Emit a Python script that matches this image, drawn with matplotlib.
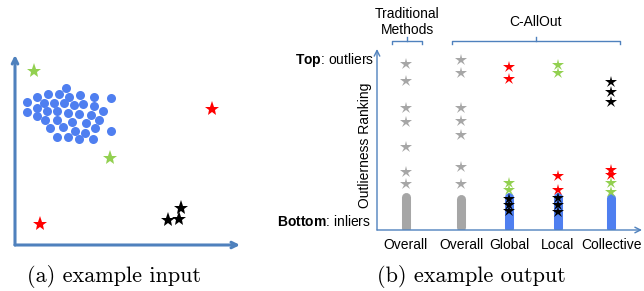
import matplotlib
matplotlib.use("Agg")
import matplotlib.pyplot as plt

plt.rcParams['font.family'] = ['Liberation Sans', 'DejaVu Sans']
plt.rcParams['mathtext.fontset'] = 'custom'
plt.rcParams['mathtext.rm'] = 'Liberation Sans'
plt.rcParams['mathtext.bf'] = 'Liberation Sans:bold'

# (a) input space: inlier cluster + outliers
inlier_x = [51, 22, 33, 44, 54, 65, 79, 96, 12, 29, 39, 49, 59, 68, 79, 88,
            12, 22, 32, 42, 53, 64, 76, 84, 22, 30, 42, 57, 71, 80, 96,
            35, 48, 60, 70, 42, 53, 64, 78]
inlier_y = [157, 148, 151, 151, 148, 150, 148, 147, 143, 142, 142, 142, 140, 141, 139, 134,
            133, 137, 134, 134, 132, 131, 130, 125, 129, 125, 125, 123, 122, 117, 114,
            117, 118, 114, 112, 108, 108, 106, 106]
local_x, local_y = [19, 95], [174, 87]
global_x, global_y = [197, 25], [136, 21]
coll_x, coll_y = [166, 153, 164], [37, 25, 26]

# (b) outlierness ranking per column
col_labels = ['Overall', 'Overall', 'Global', 'Local', 'Collective']
col_x = [29, 84, 132, 181, 234]
gray_stars = {0: [166, 149, 122, 108, 83, 58, 46],
              1: [170, 157, 122, 109, 95, 63, 46]}
gray_bar = {0: (2, 33), 1: (3, 31)}
blue_bar = {2: (2, 33), 3: (2, 33), 4: (2, 32)}
red_stars = {2: [163, 151], 3: [54, 40], 4: [60, 55]}
green_stars = {2: [47, 40], 3: [165, 157], 4: [47, 38]}
black_stars = {2: [31, 25, 19], 3: [32, 25, 18], 4: [148, 138, 128]}

BLUE = '#4F7FF0'
AXC = '#4F81BD'
GRAY = '#A6A6A6'
GREEN = '#92D050'
RED = '#FF0000'

W, H = 644, 291
fig = plt.figure(figsize=(W / 100, H / 100), dpi=100)


def px_axes(x0, y0, x1, y1):
    # axes placed by pixel box (top-left origin)
    return fig.add_axes([x0 / W, 1 - y1 / H, (x1 - x0) / W, (y1 - y0) / H])


# ---- panel (a)
ax_a = px_axes(15, 55, 240, 245)
ax_a.set_xlim(0, 225)
ax_a.set_ylim(0, 190)
ax_a.axis('off')
ax_a.annotate('', xy=(0, 1), xytext=(0, 0), xycoords='axes fraction',
              arrowprops=dict(arrowstyle='->', color=AXC, lw=2.2, shrinkA=0, shrinkB=0))
ax_a.annotate('', xy=(1, 0), xytext=(0, 0), xycoords='axes fraction',
              arrowprops=dict(arrowstyle='->', color=AXC, lw=2.2, shrinkA=0, shrinkB=0))
ax_a.plot(inlier_x, inlier_y, 'o', color=BLUE, ms=6.5, mew=0, clip_on=False)
ax_a.plot(local_x, local_y, '*', color=GREEN, ms=11, mew=0, clip_on=False)
ax_a.plot(global_x, global_y, '*', color=RED, ms=11, mew=0, clip_on=False)
ax_a.plot(coll_x, coll_y, '*', color='black', ms=11, mew=0, clip_on=False)

# ---- panel (b)
ax_b = px_axes(377, 49, 642, 230)
ax_b.set_xlim(0, 265)
ax_b.set_ylim(0, 181)
ax_b.axis('off')
ax_b.annotate('', xy=(0, 1), xytext=(0, 0), xycoords='axes fraction',
              arrowprops=dict(arrowstyle='->', color=AXC, lw=1, shrinkA=0, shrinkB=0))
ax_b.annotate('', xy=(1, 0), xytext=(0, 0), xycoords='axes fraction',
              arrowprops=dict(arrowstyle='->', color=AXC, lw=1, shrinkA=0, shrinkB=0))

star_ms = 9
for i, x in enumerate(col_x):
    if i in gray_bar:
        ax_b.plot([x, x], gray_bar[i], color=GRAY, lw=6.5, solid_capstyle='round')
    if i in blue_bar:
        ax_b.plot([x, x], blue_bar[i], color=BLUE, lw=6.5, solid_capstyle='round')
    if i in gray_stars:
        ax_b.plot([x] * len(gray_stars[i]), gray_stars[i], '*', color=GRAY, ms=star_ms, mew=0)
    for d, c in ((black_stars, 'black'), (green_stars, GREEN), (red_stars, RED)):
        if i in d:
            ax_b.plot([x] * len(d[i]), d[i], '*', color=c, ms=star_ms, mew=0, clip_on=False)
    ax_b.text(x, -15, col_labels[i], ha='center', va='center', fontsize=10)

ax_b.text(-3, 170, r'$\bf{Top}$: outliers', ha='right', va='center', fontsize=10)
ax_b.text(-6, 8, r'$\bf{Bottom}$: inliers', ha='right', va='center', fontsize=10)
ax_b.text(-12, 85, 'Outlierness Ranking', ha='center', va='center', rotation=90, fontsize=10)


def bracket(x0, x1, y):
    xm = (x0 + x1) / 2
    ax_b.plot([x0, x0, x1, x1], [y - 2.5, y, y, y - 2.5], color=AXC, lw=1, clip_on=False)
    ax_b.plot([xm, xm], [y, y + 4], color=AXC, lw=1, clip_on=False)


bracket(15, 45, 189)
bracket(75, 243, 189)
ax_b.text(30, 208, 'Traditional\nMethods', ha='center', va='center', fontsize=10, linespacing=1.1)
ax_b.text(159, 208, 'C-AllOut', ha='center', va='center', fontsize=10)

# captions
fig.text(114 / W, 1 - 277 / H, '(a) example input', ha='center', va='center',
         fontsize=16, family='cmr10')
fig.text(471 / W, 1 - 277 / H, '(b) example output', ha='center', va='center',
         fontsize=16, family='cmr10')

fig.savefig('out.png', dpi=100)
